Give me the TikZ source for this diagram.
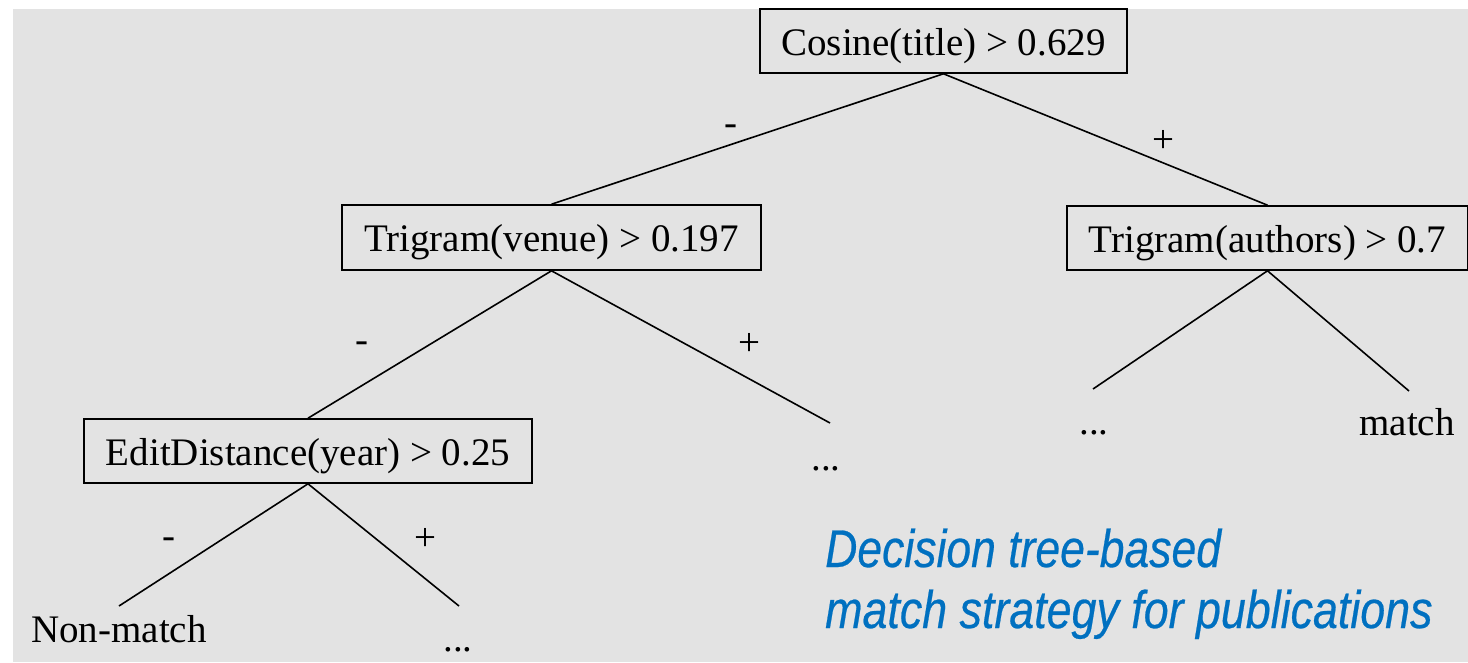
\documentclass[tikz,border=0pt]{standalone}
\usepackage{fontspec}
\setmainfont{Liberation Serif}
\newfontfamily\titlefont[FakeBold=0.5]{Liberation Sans}
\definecolor{bggray}{HTML}{E3E3E3}
\definecolor{titleblue}{HTML}{0070C0}
\begin{document}
\begin{tikzpicture}[x=1pt,y=-1pt,
  treebox/.style={draw=black,line width=1.6pt,inner sep=0pt,
    text height=30pt,text depth=2pt,font=\fontsize{39}{44}\selectfont},
  leaftext/.style={anchor=base,inner sep=0pt,font=\fontsize{39}{44}\selectfont},
  signlabel/.style={inner sep=0pt,font=\fontsize{39}{44}\selectfont},
  edge/.style={line width=1.6pt},
  titletext/.style={anchor=base west,inner sep=0pt,text=titleblue,
    font=\titlefont\itshape\fontsize{53}{58}\selectfont}]
\useasboundingbox (0,0) rectangle (1468,662);
\fill[bggray] (13,9) rectangle (1468,662);

% decision boxes
\node[treebox,minimum width=367pt,minimum height=64pt] (root) at (943.5,41) {Cosine(title) > 0.629};
\node[treebox,minimum width=419pt,minimum height=65pt] (venue) at (551.5,237.5) {Trigram(venue) > 0.197};
\node[treebox,minimum width=401pt,minimum height=64pt] (authors) at (1267.5,238) {Trigram(authors) > 0.7};
\node[treebox,minimum width=448pt,minimum height=64pt] (edit) at (308,451) {EditDistance(year) > 0.25};

% leaf texts
\node[leaftext] (venueplus) at (826,470) {...};
\node[leaftext] (authminus) at (1094,434) {...};
\node[leaftext] (match) at (1407,435) {match};
\node[leaftext] (nonmatch) at (119,642) {Non-match};
\node[leaftext] (editplus) at (458,651) {...};

% free ends of connectors
\coordinate (venuePlusEnd) at (830,423);
\coordinate (authMinusEnd) at (1093,389);
\coordinate (authPlusEnd) at (1409,391);
\coordinate (editMinusEnd) at (119,606);
\coordinate (editPlusEnd) at (459,606);

% connectors
\draw[edge] (root.south) -- (venue.north);
\draw[edge] (root.south) -- (authors.north);
\draw[edge] (venue.south) -- (edit.north);
\draw[edge] (venue.south) -- (venuePlusEnd);
\draw[edge] (authors.south) -- (authMinusEnd);
\draw[edge] (authors.south) -- (authPlusEnd);
\draw[edge] (edit.south) -- (editMinusEnd);
\draw[edge] (edit.south) -- (editPlusEnd);

% branch signs
\node[signlabel] (s1) at (731,130) {-};
\node[signlabel] (s2) at (1163,141) {+};
\node[signlabel] (s3) at (362,347) {-};
\node[signlabel] (s4) at (749,344) {+};
\node[signlabel] (s5) at (169,543) {-};
\node[signlabel] (s6) at (425,539) {+};

% caption
\node[titletext] (title1) at (825,567) {\scalebox{0.84}[1]{Decision tree-based}};
\node[titletext] (title2) at (825,628) {\scalebox{0.845}[1]{match strategy for publications}};
\end{tikzpicture}
\end{document}
